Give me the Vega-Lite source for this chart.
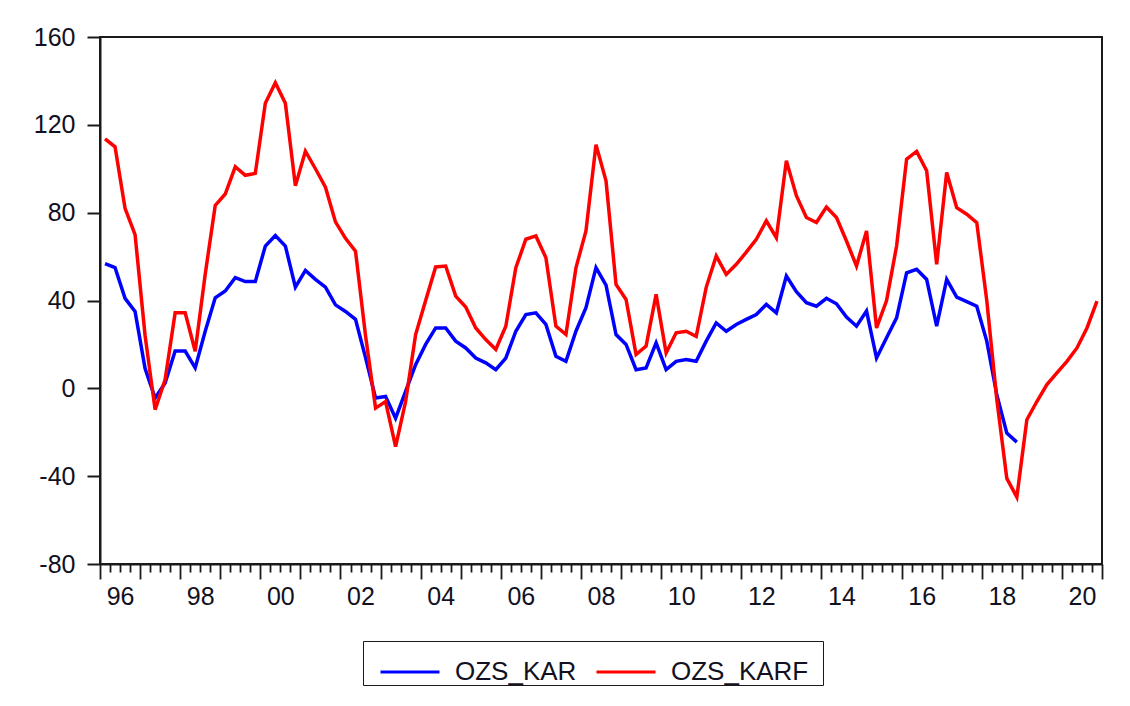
{
  "$schema": "https://vega.github.io/schema/vega-lite/v6.json",
  "width": 1002,
  "height": 527,
  "autosize": {"type": "none"},
  "padding": {"left": 100, "top": 37, "right": 28, "bottom": 142},
  "background": "white",
  "config": {
    "view": {"stroke": "#1a1a1a", "strokeWidth": 2},
    "font": "Liberation Sans"
  },
  "data": {
    "values": [
      {"t": 1996.125, "OZS_KAR": 56.8, "OZS_KARF": 113.6},
      {"t": 1996.375, "OZS_KAR": 55, "OZS_KARF": 110},
      {"t": 1996.625, "OZS_KAR": 41, "OZS_KARF": 82},
      {"t": 1996.875, "OZS_KAR": 35, "OZS_KARF": 70},
      {"t": 1997.125, "OZS_KAR": 9, "OZS_KARF": 24},
      {"t": 1997.375, "OZS_KAR": -4.4, "OZS_KARF": -9.7},
      {"t": 1997.625, "OZS_KAR": 2.4, "OZS_KARF": 4},
      {"t": 1997.875, "OZS_KAR": 17, "OZS_KARF": 34.4},
      {"t": 1998.125, "OZS_KAR": 17, "OZS_KARF": 34.4},
      {"t": 1998.375, "OZS_KAR": 9.3, "OZS_KARF": 16.9},
      {"t": 1998.625, "OZS_KAR": 26, "OZS_KARF": 52},
      {"t": 1998.875, "OZS_KAR": 41.2, "OZS_KARF": 83.3},
      {"t": 1999.125, "OZS_KAR": 44.3, "OZS_KARF": 88.5},
      {"t": 1999.375, "OZS_KAR": 50.4, "OZS_KARF": 100.9},
      {"t": 1999.625, "OZS_KAR": 48.6, "OZS_KARF": 97},
      {"t": 1999.875, "OZS_KAR": 48.6, "OZS_KARF": 97.9},
      {"t": 2000.125, "OZS_KAR": 64.8, "OZS_KARF": 129.8},
      {"t": 2000.375, "OZS_KAR": 69.6, "OZS_KARF": 139.2},
      {"t": 2000.625, "OZS_KAR": 64.8, "OZS_KARF": 129.8},
      {"t": 2000.875, "OZS_KAR": 46.1, "OZS_KARF": 92.2},
      {"t": 2001.125, "OZS_KAR": 53.7, "OZS_KARF": 108},
      {"t": 2001.375, "OZS_KAR": 49.6, "OZS_KARF": 100},
      {"t": 2001.625, "OZS_KAR": 46.1, "OZS_KARF": 91.6},
      {"t": 2001.875, "OZS_KAR": 38, "OZS_KARF": 75.8},
      {"t": 2002.125, "OZS_KAR": 35, "OZS_KARF": 68.3},
      {"t": 2002.375, "OZS_KAR": 31.4, "OZS_KARF": 62.5},
      {"t": 2002.625, "OZS_KAR": 14, "OZS_KARF": 24},
      {"t": 2002.875, "OZS_KAR": -4.4, "OZS_KARF": -9},
      {"t": 2003.125, "OZS_KAR": -3.7, "OZS_KARF": -6},
      {"t": 2003.375, "OZS_KAR": -13.6, "OZS_KARF": -26.5},
      {"t": 2003.625, "OZS_KAR": -1.4, "OZS_KARF": -6},
      {"t": 2003.875, "OZS_KAR": 10.8, "OZS_KARF": 24.5},
      {"t": 2004.125, "OZS_KAR": 20, "OZS_KARF": 40},
      {"t": 2004.375, "OZS_KAR": 27.5, "OZS_KARF": 55.3},
      {"t": 2004.625, "OZS_KAR": 27.5, "OZS_KARF": 55.7},
      {"t": 2004.875, "OZS_KAR": 21.5, "OZS_KARF": 42},
      {"t": 2005.125, "OZS_KAR": 18.4, "OZS_KARF": 37},
      {"t": 2005.375, "OZS_KAR": 13.8, "OZS_KARF": 27.5},
      {"t": 2005.625, "OZS_KAR": 11.6, "OZS_KARF": 22.2},
      {"t": 2005.875, "OZS_KAR": 8.5, "OZS_KARF": 17.7},
      {"t": 2006.125, "OZS_KAR": 13.8, "OZS_KARF": 28.3},
      {"t": 2006.375, "OZS_KAR": 26, "OZS_KARF": 54.9},
      {"t": 2006.625, "OZS_KAR": 33.6, "OZS_KARF": 67.9},
      {"t": 2006.875, "OZS_KAR": 34.4, "OZS_KARF": 69.4},
      {"t": 2007.125, "OZS_KAR": 29.1, "OZS_KARF": 59.5},
      {"t": 2007.375, "OZS_KAR": 14.6, "OZS_KARF": 28.3},
      {"t": 2007.625, "OZS_KAR": 12.3, "OZS_KARF": 24.5},
      {"t": 2007.875, "OZS_KAR": 26, "OZS_KARF": 54.9},
      {"t": 2008.125, "OZS_KAR": 36.7, "OZS_KARF": 71.7},
      {"t": 2008.375, "OZS_KAR": 55, "OZS_KARF": 111},
      {"t": 2008.625, "OZS_KAR": 47, "OZS_KARF": 94.5},
      {"t": 2008.875, "OZS_KAR": 24.5, "OZS_KARF": 47.3},
      {"t": 2009.125, "OZS_KAR": 20, "OZS_KARF": 40.5},
      {"t": 2009.375, "OZS_KAR": 8.5, "OZS_KARF": 15.4},
      {"t": 2009.625, "OZS_KAR": 9.3, "OZS_KARF": 19.2},
      {"t": 2009.875, "OZS_KAR": 20.7, "OZS_KARF": 42.8},
      {"t": 2010.125, "OZS_KAR": 8.5, "OZS_KARF": 16.1},
      {"t": 2010.375, "OZS_KAR": 12.3, "OZS_KARF": 25.3},
      {"t": 2010.625, "OZS_KAR": 13.1, "OZS_KARF": 26},
      {"t": 2010.875, "OZS_KAR": 12.3, "OZS_KARF": 23.7},
      {"t": 2011.125, "OZS_KAR": 21.5, "OZS_KARF": 46},
      {"t": 2011.375, "OZS_KAR": 29.8, "OZS_KARF": 60.3},
      {"t": 2011.625, "OZS_KAR": 26, "OZS_KARF": 51.9},
      {"t": 2011.875, "OZS_KAR": 29.1, "OZS_KARF": 56.5},
      {"t": 2012.125, "OZS_KAR": 31.4, "OZS_KARF": 62},
      {"t": 2012.375, "OZS_KAR": 33.6, "OZS_KARF": 67.9},
      {"t": 2012.625, "OZS_KAR": 38.2, "OZS_KARF": 76.3},
      {"t": 2012.875, "OZS_KAR": 34.4, "OZS_KARF": 68.6},
      {"t": 2013.125, "OZS_KAR": 51.1, "OZS_KARF": 103.7},
      {"t": 2013.375, "OZS_KAR": 44, "OZS_KARF": 87.7},
      {"t": 2013.625, "OZS_KAR": 39, "OZS_KARF": 77.8},
      {"t": 2013.875, "OZS_KAR": 37.4, "OZS_KARF": 75.5},
      {"t": 2014.125, "OZS_KAR": 41, "OZS_KARF": 82.6},
      {"t": 2014.375, "OZS_KAR": 38.5, "OZS_KARF": 77.8},
      {"t": 2014.625, "OZS_KAR": 32.5, "OZS_KARF": 67.1},
      {"t": 2014.875, "OZS_KAR": 28.3, "OZS_KARF": 55.7},
      {"t": 2015.125, "OZS_KAR": 35.2, "OZS_KARF": 71.7},
      {"t": 2015.375, "OZS_KAR": 13.8, "OZS_KARF": 27.5},
      {"t": 2015.625, "OZS_KAR": 23, "OZS_KARF": 40},
      {"t": 2015.875, "OZS_KAR": 32.1, "OZS_KARF": 64.8},
      {"t": 2016.125, "OZS_KAR": 52.6, "OZS_KARF": 104.4},
      {"t": 2016.375, "OZS_KAR": 54.2, "OZS_KARF": 107.9},
      {"t": 2016.625, "OZS_KAR": 49.6, "OZS_KARF": 99.1},
      {"t": 2016.875, "OZS_KAR": 28.3, "OZS_KARF": 56.5},
      {"t": 2017.125, "OZS_KAR": 49.6, "OZS_KARF": 98.3},
      {"t": 2017.375, "OZS_KAR": 41.5, "OZS_KARF": 82.3},
      {"t": 2017.625, "OZS_KAR": 39.5, "OZS_KARF": 79.3},
      {"t": 2017.875, "OZS_KAR": 37.4, "OZS_KARF": 75.5},
      {"t": 2018.125, "OZS_KAR": 21.5, "OZS_KARF": 40},
      {"t": 2018.375, "OZS_KAR": -2.9, "OZS_KARF": -5},
      {"t": 2018.625, "OZS_KAR": -20.4, "OZS_KARF": -41},
      {"t": 2018.875, "OZS_KAR": -24.5, "OZS_KARF": -49.5},
      {"t": 2019.125, "OZS_KAR": null, "OZS_KARF": -14.3},
      {"t": 2019.375, "OZS_KAR": null, "OZS_KARF": -6},
      {"t": 2019.625, "OZS_KAR": null, "OZS_KARF": 1.7},
      {"t": 2019.875, "OZS_KAR": null, "OZS_KARF": 7},
      {"t": 2020.125, "OZS_KAR": null, "OZS_KARF": 12.3},
      {"t": 2020.375, "OZS_KAR": null, "OZS_KARF": 18.4},
      {"t": 2020.625, "OZS_KAR": null, "OZS_KARF": 27.5},
      {"t": 2020.875, "OZS_KAR": null, "OZS_KARF": 39.7}
    ]
  },
  "transform": [
    {"fold": ["OZS_KAR", "OZS_KARF"], "as": ["series", "value"]},
    {"filter": "isValid(datum.value)"}
  ],
  "mark": {"type": "line", "strokeWidth": 3.5, "strokeJoin": "miter"},
  "encoding": {
    "x": {
      "field": "t",
      "type": "quantitative",
      "scale": {"domain": [1996, 2021], "nice": false, "zero": false},
      "axis": {
        "title": null,
        "grid": false,
        "values": [1996,1996.25,1996.5,1996.75,1997,1997.25,1997.5,1997.75,1998,1998.25,1998.5,1998.75,1999,1999.25,1999.5,1999.75,2000,2000.25,2000.5,2000.75,2001,2001.25,2001.5,2001.75,2002,2002.25,2002.5,2002.75,2003,2003.25,2003.5,2003.75,2004,2004.25,2004.5,2004.75,2005,2005.25,2005.5,2005.75,2006,2006.25,2006.5,2006.75,2007,2007.25,2007.5,2007.75,2008,2008.25,2008.5,2008.75,2009,2009.25,2009.5,2009.75,2010,2010.25,2010.5,2010.75,2011,2011.25,2011.5,2011.75,2012,2012.25,2012.5,2012.75,2013,2013.25,2013.5,2013.75,2014,2014.25,2014.5,2014.75,2015,2015.25,2015.5,2015.75,2016,2016.25,2016.5,2016.75,2017,2017.25,2017.5,2017.75,2018,2018.25,2018.5,2018.75,2019,2019.25,2019.5,2019.75,2020,2020.25,2020.5,2020.75,2021],
        "domainColor": "#1a1a1a",
        "domainWidth": 2,
        "tickColor": "#1a1a1a",
        "tickWidth": 1.8,
        "tickSize": {"condition": {"test": "datum.value % 1 == 0", "value": 15}, "value": 8},
        "labelExpr": "(datum.value % 2 == 0.5) ? substring(toString(floor(datum.value)), 2, 4) : ''",
        "labelFontSize": 25,
        "labelColor": "#111122",
        "labelPadding": 12,
        "labelOverlap": false,
        "labelBound": false,
        "labelFlush": false
      }
    },
    "y": {
      "field": "value",
      "type": "quantitative",
      "scale": {"domain": [-80, 160], "nice": false, "zero": false},
      "axis": {
        "title": null,
        "grid": false,
        "values": [-80, -40, 0, 40, 80, 120, 160],
        "labelExpr": "toString(datum.value)",
        "domainColor": "#1a1a1a",
        "domainWidth": 2,
        "tickColor": "#1a1a1a",
        "tickWidth": 2,
        "tickSize": 13,
        "labelPadding": 12,
        "labelFontSize": 25,
        "labelColor": "#111122",
        "labelOverlap": false,
        "labelBound": false,
        "labelFlush": false
      }
    },
    "color": {
      "field": "series",
      "type": "nominal",
      "scale": {"domain": ["OZS_KAR", "OZS_KARF"], "range": ["#0000ff", "#ff0000"]},
      "legend": {
        "title": "\u00a0",
        "titleOrient": "right",
        "titlePadding": 15,
        "titleFontSize": 8,
        "orient": "none",
        "legendX": 263,
        "legendY": 604,
        "direction": "horizontal",
        "symbolType": "stroke",
        "symbolSize": 3481,
        "symbolStrokeWidth": 3,
        "symbolOffset": 16,
        "labelFontSize": 26,
        "labelColor": "#111122",
        "labelOffset": 14,
        "columnPadding": 2,
        "strokeColor": "#1a1a1a",
        "padding": 0
      }
    }
  }
}
